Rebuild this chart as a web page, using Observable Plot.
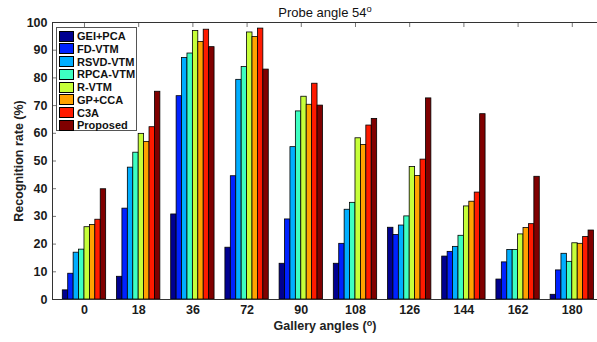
<!DOCTYPE html>
<html><head><meta charset="utf-8">
<script src="https://cdn.jsdelivr.net/npm/d3@7"></script>
<script src="https://cdn.jsdelivr.net/npm/@observablehq/plot@0.6"></script>
<style>
body{margin:0;background:#fff;}
#chart{position:relative;width:597px;height:342px;font-family:"Liberation Sans",Arial,sans-serif;}
#legend{position:absolute;left:56px;top:27px;width:81px;height:104px;border:1px solid #555;background:#fff;box-sizing:border-box;}
.item{position:absolute;left:2px;height:11px;display:flex;align-items:center;font-weight:bold;font-size:11px;color:#111;white-space:nowrap;}
.sw{width:15px;height:11px;border:1px solid #000;box-sizing:border-box;margin-right:3px;flex:none;}
</style></head><body><div id="chart"><div id="legend"></div></div>
<script>
const angles = [0, 18, 36, 72, 90, 108, 126, 144, 162, 180];
const methods = ["GEI+PCA", "FD-VTM", "RSVD-VTM", "RPCA-VTM", "R-VTM", "GP+CCA", "C3A", "Proposed"];
const colors = ["#000090", "#0022ff", "#00aeff", "#3dffc2", "#c6ff3a", "#ffa200", "#ff1a00", "#800000"];
const yTicks = [0, 10, 20, 30, 40, 50, 60, 70, 80, 90, 100];

const geiPca   = [3.3, 8.2, 30.7, 18.7, 12.9, 12.9, 25.9, 15.5, 7.2, 1.7];
const fdVtm    = [9.3, 32.8, 73.4, 44.5, 28.9, 20.1, 23.3, 17.2, 13.4, 10.5];
const rsvdVtm  = [16.9, 47.6, 87.2, 79.3, 55.0, 32.4, 26.7, 19.0, 17.9, 16.5];
const rpcaVtm  = [18.0, 53.0, 88.8, 83.9, 67.9, 34.9, 30.0, 23.0, 17.9, 13.6];
const rVtm     = [26.1, 59.8, 96.9, 96.4, 73.2, 58.2, 47.8, 33.6, 23.5, 20.3];
const gpCca    = [26.9, 56.9, 93.0, 94.8, 70.3, 55.8, 44.6, 35.3, 25.8, 20.1];
const c3a      = [28.8, 62.2, 97.4, 97.8, 77.9, 62.8, 50.5, 38.6, 27.2, 22.6];
const proposed = [39.8, 75.0, 91.1, 83.0, 70.0, 65.2, 72.6, 66.9, 44.3, 24.9];

const series = [geiPca, fdVtm, rsvdVtm, rpcaVtm, rVtm, gpCca, c3a, proposed];
const groupWidth = 0.8;
const barW = groupWidth / methods.length;
const data = [];
series.forEach((vals, j) => vals.forEach((v, i) => {
  const x1 = (i + 1) - groupWidth / 2 + j * barW;
  data.push({angle: angles[i], method: methods[j], value: v, x1, x2: x1 + barW});
}));
const xIdx = angles.map((a, i) => i + 1);
const xMin = 0.41, xMax = 10.465;

const bold = {fontWeight: "bold", fontSize: 12.5};
const plot = Plot.plot({
  width: 597, height: 342,
  marginLeft: 52, marginRight: 0, marginTop: 22, marginBottom: 43,
  x: {domain: [xMin, xMax], axis: null},
  y: {domain: [0, 100], axis: null},
  color: {domain: methods, range: colors},
  style: {fontFamily: "'Liberation Sans', Arial, sans-serif", color: "#1a1a1a", background: "#fff"},
  marks: [
    Plot.axisY({ticks: yTicks, tickSize: 4, dx: 4, tickFormat: () => "", label: null, stroke: "#777"}),
    Plot.axisX({anchor: "top", ticks: xIdx, tickSize: 4, dy: 4, tickFormat: () => "", label: null, stroke: "#777"}),
    Plot.axisY({ticks: yTicks, tickSize: 0, tickPadding: 5, label: null, ...bold}),
    Plot.axisX({ticks: xIdx, tickSize: 0, tickPadding: 6, tickFormat: i => angles[i - 1], label: null, ...bold}),
    Plot.rectY(data, {x1: "x1", x2: "x2", y: "value", fill: "method", stroke: "#000", strokeWidth: 0.8}),
    Plot.ruleY([0, 100], {stroke: "#333"}),
    Plot.ruleX([xMin], {stroke: "#333"}),
    Plot.text(["Probe angle 54"], {frameAnchor: "top", lineAnchor: "middle", textAnchor: "middle", dy: -10, fontSize: 13, fill: "#111"}),
    Plot.text(["Gallery angles (o)"], {frameAnchor: "bottom", lineAnchor: "middle", textAnchor: "middle", dy: 26.5, fontSize: 12.5, fontWeight: "bold", fill: "#222"}),
    Plot.text(["Recognition rate (%)"], {frameAnchor: "left", lineAnchor: "middle", textAnchor: "middle", dx: -34, rotate: -90, fontSize: 12.5, fontWeight: "bold", fill: "#222"})
  ]
});

function superscript(el, before, sup, after) {
  const ns = "http://www.w3.org/2000/svg";
  el.textContent = before;
  const t = document.createElementNS(ns, "tspan");
  t.setAttribute("dy", "-0.45em"); t.setAttribute("font-size", "0.72em"); t.textContent = sup;
  el.appendChild(t);
  if (after) {
    const a = document.createElementNS(ns, "tspan");
    a.setAttribute("dy", "0.32em"); a.textContent = after;
    el.appendChild(a);
  }
}
plot.querySelectorAll("text").forEach(el => {
  if (el.textContent === "Probe angle 54") superscript(el, "Probe angle 54", "o", "");
  else if (el.textContent === "Gallery angles (o)") superscript(el, "Gallery angles (", "o", ")");
});

const chart = document.getElementById("chart");
chart.insertBefore(plot, chart.firstChild);

const legend = document.getElementById("legend");
methods.forEach((m, j) => {
  const item = document.createElement("div");
  item.className = "item";
  item.style.top = (2.5 + j * 12.76) + "px";
  const sw = document.createElement("div");
  sw.className = "sw"; sw.style.background = colors[j];
  const lab = document.createElement("span");
  lab.textContent = m;
  item.appendChild(sw); item.appendChild(lab);
  legend.appendChild(item);
});
</script></body></html>
